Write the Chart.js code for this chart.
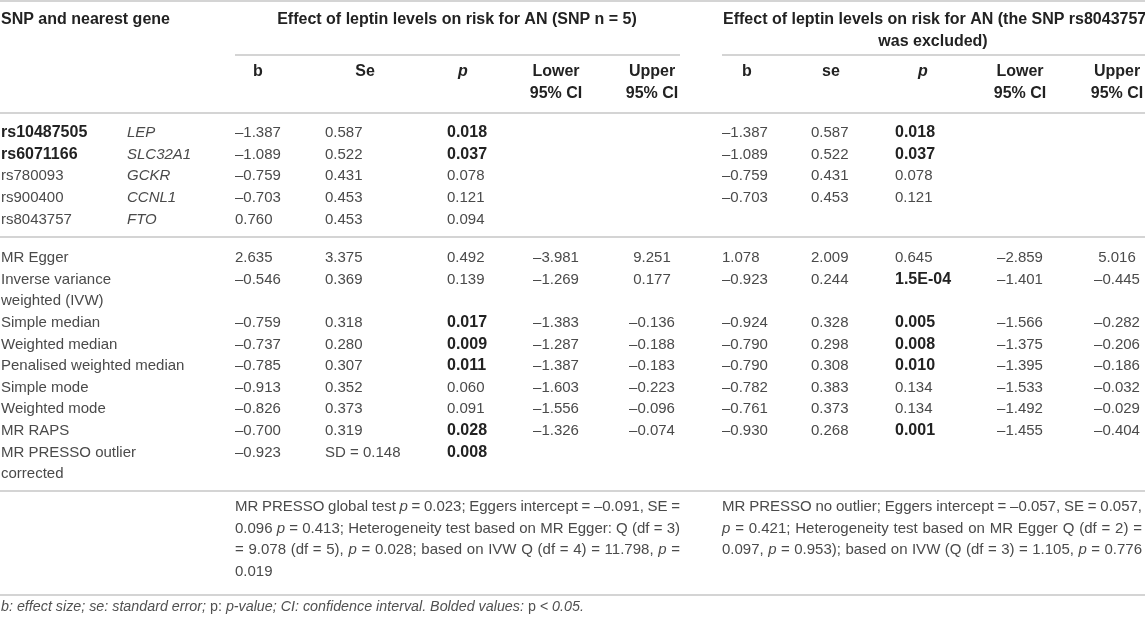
<!DOCTYPE html>
<html>
<head>
<meta charset="utf-8">
<title>Leptin and AN – MR results</title>
<script src="https://cdn.jsdelivr.net/npm/chart.js@4"></script>
<style>
  html, body { margin: 0; padding: 0; background: #fff; }
  #table { display: block; }
</style>
</head>
<body>
<canvas id="table" width="1145" height="619"></canvas>
<script>
'use strict';
// ******* Table data *******
let stubTitle = 'SNP and nearest gene';
let groupTitles = [
  'Effect of leptin levels on risk for AN (SNP n = 5)',
  'Effect of leptin levels on risk for AN (the SNP rs8043757',
  'was excluded)'
];
let colHeads1 = ['b', 'Se', 'p', 'Lower\n95% CI', 'Upper\n95% CI'];
let colHeads2 = ['b', 'se', 'p', 'Lower\n95% CI', 'Upper\n95% CI'];

let snpIds = ['rs10487505', 'rs6071166', 'rs780093', 'rs900400', 'rs8043757'];
let snpGenes = ['LEP', 'SLC32A1', 'GCKR', 'CCNL1', 'FTO'];
let snpB = [-1.387, -1.089, -0.759, -0.703, 0.760];
let snpSe = [0.587, 0.522, 0.431, 0.453, 0.453];
let snpP = [0.018, 0.037, 0.078, 0.121, 0.094];
let snpB2 = [-1.387, -1.089, -0.759, -0.703, null];
let snpSe2 = [0.587, 0.522, 0.431, 0.453, null];
let snpP2 = [0.018, 0.037, 0.078, 0.121, null];

let methods = [
  'MR Egger', 'Inverse variance\nweighted (IVW)', 'Simple median', 'Weighted median',
  'Penalised weighted median', 'Simple mode', 'Weighted mode', 'MR RAPS',
  'MR PRESSO outlier\ncorrected'
];
let methB = [2.635, -0.546, -0.759, -0.737, -0.785, -0.913, -0.826, -0.700, -0.923];
let methSe = [3.375, 0.369, 0.318, 0.280, 0.307, 0.352, 0.373, 0.319, 0.148];
let methSePrefix = ['', '', '', '', '', '', '', '', 'SD = '];
let methP = [0.492, 0.139, 0.017, 0.009, 0.011, 0.060, 0.091, 0.028, 0.008];
let methLo = [-3.981, -1.269, -1.383, -1.287, -1.387, -1.603, -1.556, -1.326, null];
let methUp = [9.251, 0.177, -0.136, -0.188, -0.183, -0.223, -0.096, -0.074, null];
let methB2 = [1.078, -0.923, -0.924, -0.790, -0.790, -0.782, -0.761, -0.930, null];
let methSe2 = [2.009, 0.244, 0.328, 0.298, 0.308, 0.383, 0.373, 0.268, null];
let methP2 = [0.645, 0.00015, 0.005, 0.008, 0.010, 0.134, 0.134, 0.001, null];
let methLo2 = [-2.859, -1.401, -1.566, -1.375, -1.395, -1.533, -1.492, -1.455, null];
let methUp2 = [5.016, -0.445, -0.282, -0.206, -0.186, -0.032, -0.029, -0.404, null];

// *p* marks italic words
let notes1 = [
  'MR PRESSO global test *p* = 0.023; Eggers intercept = –0.091, SE =',
  '0.096 *p* = 0.413; Heterogeneity test based on MR Egger: Q (df = 3)',
  '= 9.078 (df = 5), *p* = 0.028; based on IVW Q (df = 4) = 11.798, *p* =',
  '0.019'
];
let notes2 = [
  'MR PRESSO no outlier; Eggers intercept = –0.057, SE = 0.057,',
  '*p* = 0.421; Heterogeneity test based on MR Egger Q (df = 2) =',
  '0.097, *p* = 0.953); based on IVW (Q (df = 3) = 1.105, *p* = 0.776'
];
// footnote is italic, *p* marks upright words
let footnote = 'b: effect size; se: standard error; *p:* p-value; CI: confidence interval. Bolded values: *p* < 0.05.';

let alpha = 0.05;

// ****** Layout ******
let fontFamily = '"Liberation Sans", Arimo, Helvetica, Arial, sans-serif';
let fontSize = 15;
let boldSize = 16;
let lineH = 21.6;
let textColor = '#4a4a4a';
let boldColor = '#222222';
let ruleColor = '#d4d4d4';

let stubX = 1;
let geneX = 127;
let colX1 = [235, 325, 447, 556, 652];
let colX2 = [722, 811, 895, 1020, 1117];
let headX1 = [258, 365, 463, 556, 652];
let headX2 = [747, 831, 923, 1020, 1117];
let colAlign = ['left', 'left', 'left', 'center', 'center'];
let groupX = [457, 723, 933];
let groupAlign = ['center', 'left', 'center'];
let noteX = [235, 722];
let noteWidth = [445, 420];

let titleY = 20;
let subHeadY = 72;
let snpY0 = 133;
let methY0 = 258;
let methSlot = [0, 1, 3, 4, 5, 6, 7, 8, 9];
let noteY0 = 507;
let footY = 607;

let rules = [
  { x0: 0, x1: 1145, y: 1 },
  { x0: 235, x1: 680, y: 55 },
  { x0: 722, x1: 1145, y: 55 },
  { x0: 0, x1: 1145, y: 113 },
  { x0: 0, x1: 1145, y: 237 },
  { x0: 0, x1: 1145, y: 491 },
  { x0: 0, x1: 1145, y: 595 }
];

// ****** Helpers ******
function fmt(v) {
  if (v === null) return null;
  if (v !== 0 && Math.abs(v) < 0.001) {
    let parts = v.toExponential(1).toUpperCase().split('E');
    let exp = parseInt(parts[1], 10);
    let sign = exp < 0 ? '-' : '+';
    return parts[0] + 'E' + sign + String(Math.abs(exp)).padStart(2, '0');
  }
  return v.toFixed(3).replace('-', '–');
}

let datasets = [];

function addCells(xs, ys, cells) {
  let pts = [];
  let keep = [];
  cells.forEach((c, i) => {
    if (c && c.text !== null) {
      pts.push({ x: Array.isArray(xs) ? xs[i] : xs, y: ys[i] });
      keep.push(c);
    }
  });
  datasets.push({ data: pts, cells: keep, pointRadius: 0, pointHoverRadius: 0, showLine: false });
}

// ****** Build the cells ******
// header
addCells([stubX], [titleY], [{ text: stubTitle, bold: true }]);
addCells(groupX, [titleY, titleY, titleY + lineH],
  groupTitles.map((t, i) => ({ text: t, bold: true, align: groupAlign[i] })));
addCells(headX1, colHeads1.map(() => subHeadY), colHeads1.map(t => ({ text: t, bold: true, italic: t === 'p', align: 'center' })));
addCells(headX2, colHeads2.map(() => subHeadY), colHeads2.map(t => ({ text: t, bold: true, italic: t === 'p', align: 'center' })));

// SNP rows
let snpY = snpIds.map((s, i) => snpY0 + i * lineH);
addCells(stubX, snpY, snpIds.map((s, i) => ({ text: s, bold: snpP[i] < alpha })));
addCells(geneX, snpY, snpGenes.map(g => ({ text: g, italic: true })));
addCells(colX1[0], snpY, snpB.map(v => ({ text: fmt(v) })));
addCells(colX1[1], snpY, snpSe.map(v => ({ text: fmt(v) })));
addCells(colX1[2], snpY, snpP.map(v => ({ text: fmt(v), bold: v < alpha })));
addCells(colX2[0], snpY, snpB2.map(v => ({ text: fmt(v) })));
addCells(colX2[1], snpY, snpSe2.map(v => ({ text: fmt(v) })));
addCells(colX2[2], snpY, snpP2.map(v => ({ text: fmt(v), bold: v !== null && v < alpha })));

// method rows
let methY = methSlot.map(s => methY0 + s * lineH);
let groupOne = [methB, methSe, methP, methLo, methUp];
let groupTwo = [methB2, methSe2, methP2, methLo2, methUp2];
function methCols(xs, series) {
  series.forEach((vals, k) => {
    addCells(xs[k], methY, vals.map((v, i) => {
      let text = fmt(v);
      if (text !== null && k === 1 && series === groupOne) text = methSePrefix[i] + text;
      return { text: text, bold: k === 2 && v !== null && v < alpha, align: colAlign[k] };
    }));
  });
}
addCells(stubX, methY, methods.map(m => ({ text: m })));
methCols(colX1, groupOne);
methCols(colX2, groupTwo);

// notes and footnote
addCells(notes1.map(() => noteX[0]), notes1.map((n, i) => noteY0 + i * lineH),
  notes1.map((n, i) => ({ text: n, rich: true, justify: i < notes1.length - 1 ? noteWidth[0] : 0 })));
addCells(notes2.map(() => noteX[1]), notes2.map((n, i) => noteY0 + i * lineH),
  notes2.map(n => ({ text: n, rich: true, justify: noteWidth[1] })));
addCells([stubX], [footY], [{ text: footnote, rich: true, baseItalic: true, size: 14.3, color: '#505050' }]);

// ****** Drawing ******
function fontFor(bold, italic, size) {
  return (italic ? 'italic ' : '') + (bold ? 'bold ' : '') + size + 'px ' + fontFamily;
}

function drawRich(ctx, x, y, cell) {
  let size = cell.size || fontSize;
  let words = cell.text.split(' ').map(w => {
    let segs = w.split('*').map((t, k) => ({ t: t, it: (k % 2 === 1) !== !!cell.baseItalic })).filter(s => s.t);
    let width = 0;
    segs.forEach(s => {
      ctx.font = fontFor(false, s.it, size);
      s.w = ctx.measureText(s.t).width;
      width += s.w;
    });
    return { segs: segs, w: width };
  });
  ctx.font = fontFor(false, !!cell.baseItalic, size);
  let gap = ctx.measureText(' ').width;
  if (cell.justify && words.length > 1) {
    let total = words.reduce((a, w) => a + w.w, 0);
    gap = (cell.justify - total) / (words.length - 1);
  }
  ctx.textAlign = 'left';
  let cx = x;
  words.forEach(w => {
    w.segs.forEach(s => {
      ctx.font = fontFor(false, s.it, size);
      ctx.fillText(s.t, cx, y);
      cx += s.w;
    });
    cx += gap;
  });
}

const tablePlugin = {
  id: 'tablePlugin',
  beforeDatasetsDraw(chart) {
    let ctx = chart.ctx;
    let xs = chart.scales.x;
    let ys = chart.scales.y;
    ctx.save();
    ctx.strokeStyle = ruleColor;
    ctx.lineWidth = 2;
    rules.forEach(r => {
      let py = ys.getPixelForValue(r.y);
      ctx.beginPath();
      ctx.moveTo(xs.getPixelForValue(r.x0), py);
      ctx.lineTo(xs.getPixelForValue(r.x1), py);
      ctx.stroke();
    });
    ctx.restore();
  },
  afterDatasetsDraw(chart) {
    let ctx = chart.ctx;
    let ys = chart.scales.y;
    ctx.save();
    ctx.textBaseline = 'middle';
    chart.data.datasets.forEach((ds, i) => {
      let meta = chart.getDatasetMeta(i);
      meta.data.forEach((pt, j) => {
        let cell = ds.cells[j];
        ctx.fillStyle = cell.color || (cell.bold ? boldColor : textColor);
        if (cell.rich) {
          drawRich(ctx, pt.x, pt.y, cell);
          return;
        }
        ctx.font = fontFor(cell.bold, cell.italic, cell.size || (cell.bold ? boldSize : fontSize));
        ctx.textAlign = cell.align || 'left';
        cell.text.split('\n').forEach((line, k) => {
          let py = ys.getPixelForValue(ds.data[j].y + k * lineH);
          ctx.fillText(line, pt.x, py);
        });
      });
    });
    ctx.restore();
  }
};

new Chart(document.getElementById('table'), {
  type: 'scatter',
  data: { datasets: datasets },
  options: {
    responsive: false,
    animation: false,
    events: [],
    layout: { padding: 0 },
    plugins: { legend: { display: false }, tooltip: { enabled: false } },
    scales: {
      x: { type: 'linear', min: 0, max: 1145, display: false },
      y: { type: 'linear', min: 0, max: 619, reverse: true, display: false }
    }
  },
  plugins: [tablePlugin]
});
</script>
</body>
</html>
